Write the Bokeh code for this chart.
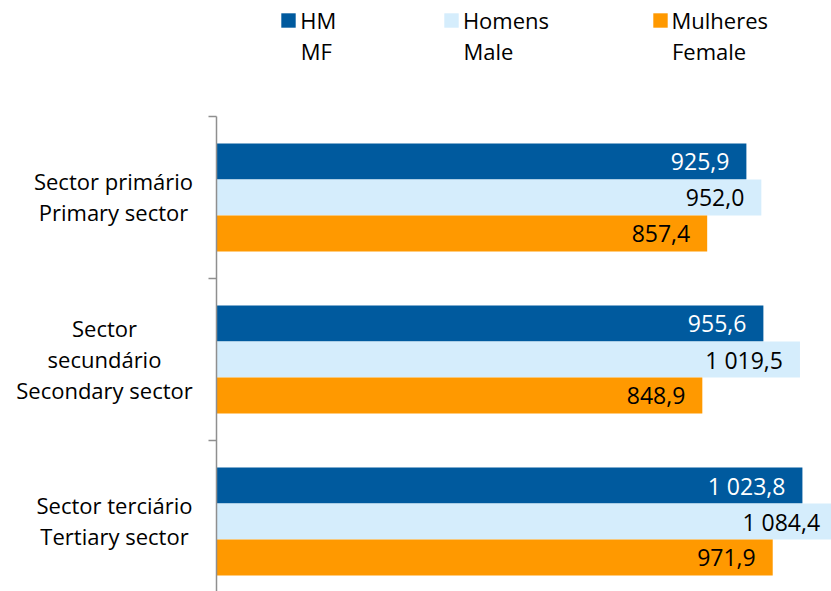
from bokeh.plotting import figure
from bokeh.models import Range1d, FixedTicker, Label, Legend, LegendItem
from bokeh.core.properties import value
from bokeh.embed import file_html
from bokeh.resources import INLINE

# ---- data ----
group_lines = [["Sector primário", "Primary sector"],
               ["Sector", "secundário", "Secondary sector"],
               ["Sector terciário", "Tertiary sector"]]
series_pt = ["HM", "Homens", "Mulheres"]
series_en = ["MF", "Male", "Female"]
hm = [925.9, 955.6, 1023.8]
homens = [952.0, 1019.5, 1084.4]
mulheres = [857.4, 848.9, 971.9]
values = [hm, homens, mulheres]

colors = ["#005A9E", "#D5EDFC", "#FF9900"]
label_colors = ["#FFFFFF", "#000000", "#000000"]
FONT = "Open Sans"
FS = "22px"

# ---- layout (canvas pixel geometry) ----
W, H = 831, 591
AX_X, AX_TOP = 216, 116        # axis position in pixels
PX = 0.5723                    # pixels per unit
GPX = 162.0                    # pixels per category group
BAR = 36.0 / GPX
n_groups = len(group_lines)

def dx(px):
    return (px - AX_X) / PX

def dy(py):
    return n_groups - (py - AX_TOP) / GPX

p = figure(width=W, height=H, output_backend="svg", toolbar_location=None,
           x_axis_location=None,
           x_range=Range1d(dx(0), dx(W)),
           y_range=Range1d(dy(H), dy(0)),
           min_border_left=0, min_border_top=0,
           min_border_right=0, min_border_bottom=0)
p.xgrid.visible = False
p.ygrid.visible = False
p.outline_line_color = None
p.background_fill_color = "white"
p.border_fill_color = "white"

ax = p.yaxis[0]
ax.fixed_location = 0
ax.bounds = (0, n_groups)
ticks = list(range(n_groups + 1))
ax.ticker = FixedTicker(ticks=ticks)
ax.major_label_overrides = {t: "" for t in ticks}
ax.major_tick_in = 0
ax.major_tick_out = 8
ax.minor_tick_line_color = None
ax.axis_line_color = "#8F8F8F"
ax.major_tick_line_color = "#8F8F8F"
ax.axis_line_width = 1.5
ax.major_tick_line_width = 1.5

def fmt(v):
    return f"{v:,.1f}".replace(",", " ").replace(".", ",")

bars = []
for s, vals in enumerate(values):
    ys = [n_groups - 0.5 - g + (1 - s) * BAR for g in range(n_groups)]
    r = p.hbar(y=ys, left=0, right=vals, height=BAR, fill_color=colors[s],
               line_color=None)
    bars.append(r)
    p.text(x=vals, y=ys, text=[fmt(v) for v in vals], x_offset=-17, y_offset=0,
           text_align="right", text_baseline="alphabetic",
           text_font=value(FONT), text_font_size="23px", text_color=label_colors[s])

# ---- category labels ----
label_centers = [113, 104, 114]
for g, lines in enumerate(group_lines):
    center = AX_TOP + GPX * g + GPX / 2
    n = len(lines)
    for k, t in enumerate(lines):
        base = center + (k - (n - 1) / 2) * 31 - 1
        p.add_layout(Label(x=dx(label_centers[g]), y=dy(base), text=t,
                           text_align="center", text_baseline="alphabetic",
                           text_font=FONT, text_font_size=FS, text_color="#000000"))

# ---- legend ----
legend_x = [279.2, 441.9, 650.5]
legend_top = 5.2
for s in range(3):
    leg = Legend(items=[LegendItem(label=series_pt[s], renderers=[bars[s]])],
                 location=(legend_x[s], H - legend_top - 30),
                 orientation="horizontal", padding=0, margin=0, spacing=0,
                 glyph_width=18, glyph_height=18, label_standoff=3,
                 label_text_font=FONT, label_text_font_size=FS,
                 label_text_color="#000000",
                 border_line_color=None, background_fill_alpha=0)
    p.add_layout(leg, "center")
    p.add_layout(Label(x=dx(legend_x[s] + 21), y=dy(50), text=series_en[s],
                       text_align="left", text_baseline="alphabetic",
                       text_font=FONT, text_font_size=FS, text_color="#000000"))

open("out.html", "w").write(file_html(p, INLINE))
